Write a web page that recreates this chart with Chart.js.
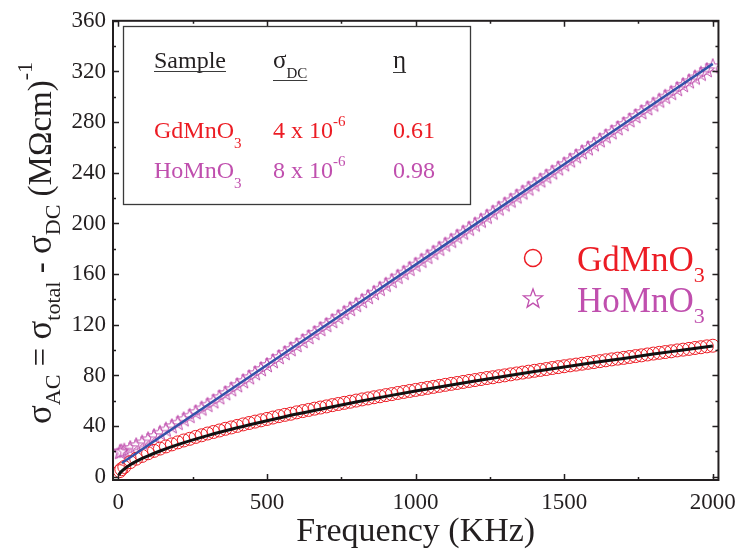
<!DOCTYPE html>
<html>
<head>
<meta charset="utf-8">
<script src="https://cdn.jsdelivr.net/npm/chart.js@4.4.1/dist/chart.umd.min.js"></script>
<style>
  html, body { margin: 0; padding: 0; background: #fff; }
  #wrap { width: 745px; height: 554px; }
</style>
</head>
<body>
<div id="wrap"><canvas id="c" width="745" height="554"></canvas></div>
<script>
// frequency (KHz) of the measured points
const freq = [5, 10, 20, 40, 60, 80, 100, 120, 140, 160, 180, 200, 220, 240, 260, 280, 300, 320, 340, 360, 380, 400,
  420, 440, 460, 480, 500, 520, 540, 560, 580, 600, 620, 640, 660, 680, 700, 720, 740, 760, 780, 800,
  820, 840, 860, 880, 900, 920, 940, 960, 980, 1000, 1020, 1040, 1060, 1080, 1100, 1120, 1140, 1160, 1180, 1200,
  1220, 1240, 1260, 1280, 1300, 1320, 1340, 1360, 1380, 1400, 1420, 1440, 1460, 1480, 1500, 1520, 1540, 1560, 1580, 1600,
  1620, 1640, 1660, 1680, 1700, 1720, 1740, 1760, 1780, 1800, 1820, 1840, 1860, 1880, 1900, 1920, 1940, 1960, 1980, 2000];

const gdValues = [4.5, 6.0, 7.8, 11.6, 14.3, 16.5, 18.6, 20.5, 22.3, 24.0, 25.6, 27.2, 28.7, 30.0, 31.5, 32.8, 34.2, 35.4, 36.6, 37.9, 39.0, 40.2,
  41.4, 42.5, 43.6, 44.6, 45.7, 46.8, 47.9, 48.9, 49.8, 50.9, 51.9, 52.8, 53.8, 54.7, 55.6, 56.6, 57.5, 58.4, 59.3, 60.2,
  61.1, 61.9, 62.8, 63.6, 64.5, 65.3, 66.2, 67.0, 67.8, 68.6, 69.4, 70.2, 71.0, 71.8, 72.6, 73.4, 74.1, 74.9, 75.7, 76.4,
  77.2, 78.0, 78.6, 79.4, 80.1, 80.9, 81.6, 82.3, 83.0, 83.7, 84.4, 85.1, 85.9, 86.6, 87.3, 88.0, 88.6, 89.3, 90.0, 90.6,
  91.3, 92.0, 92.7, 93.3, 93.9, 94.6, 95.3, 95.9, 96.6, 97.3, 97.9, 98.5, 99.1, 99.8, 100.4, 101.0, 101.7, 102.3, 103.0, 103.5];

const hoValues = [19.8, 20.1, 20.7, 22.8, 25.0, 27.2, 29.7, 32.2, 34.8, 37.4, 40.0, 42.7, 45.5, 48.2, 51.1, 54.0, 56.9, 59.7, 62.9, 66.1, 69.2, 72.4,
  75.6, 78.7, 81.9, 85.1, 88.3, 91.4, 94.6, 97.8, 100.9, 104.1, 107.3, 110.4, 113.6, 116.8, 120.0, 123.1, 126.3, 129.5, 132.6, 135.8,
  139.0, 142.1, 145.3, 148.5, 151.7, 154.8, 158.0, 161.2, 164.3, 167.5, 170.7, 173.8, 177.0, 180.2, 183.4, 186.5, 189.7, 192.9, 196.0, 199.2,
  202.4, 205.5, 208.7, 211.9, 215.1, 218.2, 221.4, 224.6, 227.7, 230.9, 234.1, 237.2, 240.4, 243.6, 246.8, 249.9, 253.1, 256.3, 259.4, 262.6,
  265.8, 268.9, 272.1, 275.3, 278.5, 281.6, 284.8, 288.0, 291.1, 294.0, 297.1, 300.1, 303.2, 306.3, 309.4, 312.3, 315.3, 318.3, 321.2, 324.2];

// fitted curves
const gdFitFreq = [2, 5, 10, 20, 40, 60, 80, 100, 140, 200, 300, 400, 500, 600, 700, 800, 900, 1000, 1100, 1200, 1300, 1400, 1500, 1600, 1700, 1800, 1900, 2000];
const gdFitValues = [1.5, 2.7, 4.1, 6.2, 9.5, 12.2, 14.5, 16.6, 20.4, 25.4, 32.5, 38.7, 44.3, 49.6, 54.4, 59.1, 63.5, 67.7, 71.7, 75.6, 79.4, 83.1, 86.7, 90.2, 93.5, 96.9, 100.1, 103.3];
const hoFitFreq = [12, 500, 1000, 1500, 2000];
const hoFitValues = [10.9, 88.3, 167.5, 246.8, 326.0];

const xTicks = [0, 500, 1000, 1500, 2000];
const xMinor = [250, 750, 1250, 1750];
const yTicks = [0, 40, 80, 120, 160, 200, 240, 280, 320, 360];
const yMinor = [20, 60, 100, 140, 180, 220, 260, 300, 340];

// inset table
const tableRows = [
  { sample: 'GdMnO', sigma: '4 x 10', exp: '-6', eta: '0.61' },
  { sample: 'HoMnO', sigma: '8 x 10', exp: '-6', eta: '0.98' }
];

const RED = '#ec1c24';
const MAG = '#c04fae';
const BLUE = '#3352a8';
const INK = '#231f20';
const SERIF = "'Liberation Serif', 'Times New Roman', serif";

function starPath(ctx, cx, cy, R, r) {
  ctx.beginPath();
  for (let i = 0; i < 10; i++) {
    const rad = i % 2 === 0 ? R : r;
    const a = -Math.PI / 2 + i * Math.PI / 5;
    const px = cx + rad * Math.cos(a), py = cy + rad * Math.sin(a);
    if (i === 0) ctx.moveTo(px, py); else ctx.lineTo(px, py);
  }
  ctx.closePath();
}

// star marker as an image point style
const starImg = document.createElement('canvas');
starImg.width = 18; starImg.height = 18;
(function(){
  const c = starImg.getContext('2d');
  c.strokeStyle = MAG; c.lineWidth = 1;
  starPath(c, 9, 9.5, 8, 3.3);
  c.stroke();
})();

function richWidth(ctx, parts) {
  let w = 0;
  for (const p of parts) { ctx.font = p[1] + 'px ' + SERIF; w += ctx.measureText(p[0]).width; }
  return w;
}
function rich(ctx, x, y, parts) {
  let cx = x;
  for (const p of parts) {
    ctx.font = p[1] + 'px ' + SERIF;
    ctx.fillText(p[0], cx, y + p[2]);
    cx += ctx.measureText(p[0]).width;
  }
  return cx;
}

const decor = {
  id: 'decor',
  afterDraw(chart) {
    const ctx = chart.ctx, a = chart.chartArea;
    const xs = chart.scales.x, ys = chart.scales.y;
    ctx.save();
    // frame
    ctx.strokeStyle = INK; ctx.lineWidth = 2;
    ctx.strokeRect(a.left, a.top, a.right - a.left, a.bottom - a.top);
    ctx.lineWidth = 1.5;
    ctx.beginPath();
    xTicks.concat(xMinor).forEach(v => {
      const px = Math.round(xs.getPixelForValue(v)) + 0.5;
      const len = xTicks.includes(v) ? 6 : 3;
      ctx.moveTo(px, a.bottom); ctx.lineTo(px, a.bottom - len);
      ctx.moveTo(px, a.top); ctx.lineTo(px, a.top + len);
    });
    yTicks.concat(yMinor).forEach(v => {
      const py = Math.round(ys.getPixelForValue(v)) + 0.5;
      const len = yTicks.includes(v) ? 6 : 3;
      ctx.moveTo(a.left, py); ctx.lineTo(a.left + len, py);
      ctx.moveTo(a.right, py); ctx.lineTo(a.right - len, py);
    });
    ctx.stroke();

    // x title
    ctx.fillStyle = INK;
    ctx.textBaseline = 'alphabetic';
    ctx.textAlign = 'center';
    ctx.font = '34px ' + SERIF;
    ctx.fillText('Frequency (KHz)', (a.left + a.right) / 2, 541);
    ctx.textAlign = 'left';

    // y title
    const yParts = [['σ', 35, 0], ['AC', 22, 9], [' = ', 33, 0], ['σ', 35, 0], ['total', 22, 9], [' - ', 33, 0],
                    ['σ', 35, 0], ['DC', 22, 9], [' (MΩcm)', 33, 0], ['-1', 22, -19]];
    ctx.save();
    ctx.translate(51, 243);
    ctx.rotate(-Math.PI / 2);
    const w = richWidth(ctx, yParts);
    rich(ctx, -w / 2, 0, yParts);
    ctx.restore();

    // inset table
    ctx.strokeStyle = '#3a3a3a'; ctx.lineWidth = 1.3;
    ctx.strokeRect(123.5, 26.5, 347, 178);
    ctx.fillStyle = INK;
    ctx.lineWidth = 1;
    let e = rich(ctx, 154, 68, [['Sample', 24, 0]]);
    ctx.beginPath(); ctx.moveTo(154, 71.5); ctx.lineTo(e, 71.5);
    e = rich(ctx, 273, 68, [['σ', 25, 0], ['DC', 15, 10]]);
    ctx.moveTo(273, 80.5); ctx.lineTo(e, 80.5);
    e = rich(ctx, 393, 68, [['η', 25, 0]]);
    ctx.moveTo(393, 72.5); ctx.lineTo(e, 72.5);
    ctx.stroke();
    const rowY = [138, 178];
    tableRows.forEach((r, i) => {
      ctx.fillStyle = i === 0 ? RED : MAG;
      rich(ctx, 154, rowY[i], [[r.sample, 24, 0], ['3', 15, 10]]);
      rich(ctx, 273, rowY[i], [[r.sigma, 24, 0], [r.exp, 15, -12]]);
      rich(ctx, 393, rowY[i], [[r.eta, 24, 0]]);
    });

    // legend
    ctx.lineWidth = 1.5;
    ctx.strokeStyle = RED;
    ctx.beginPath(); ctx.arc(533, 258, 8.5, 0, Math.PI * 2); ctx.stroke();
    ctx.fillStyle = RED;
    rich(ctx, 577, 271, [['GdMnO', 35, 0], ['3', 22, 11]]);
    ctx.strokeStyle = MAG; ctx.lineWidth = 1.3;
    starPath(ctx, 533, 299, 10, 4.1); ctx.stroke();
    ctx.fillStyle = MAG;
    rich(ctx, 577, 312, [['HoMnO', 35, 0], ['3', 22, 11]]);
    ctx.restore();
  }
};

const pts = (xsArr, ysArr) => xsArr.map((x, i) => ({ x: x, y: ysArr[i] }));

new Chart(document.getElementById('c'), {
  type: 'scatter',
  data: {
    datasets: [
      { label: 'GdMnO3 fit', data: pts(gdFitFreq, gdFitValues), showLine: true, borderColor: '#111', borderWidth: 3,
        pointRadius: 0, cubicInterpolationMode: 'monotone' },
      { label: 'HoMnO3 fit', data: pts(hoFitFreq, hoFitValues), showLine: true, borderColor: BLUE, borderWidth: 2.5,
        pointRadius: 0, cubicInterpolationMode: 'monotone' },
      { label: 'GdMnO3', data: pts(freq, gdValues), pointStyle: 'circle', pointRadius: 6.5, borderWidth: 1,
        pointBorderColor: RED, pointBackgroundColor: 'rgba(0,0,0,0)' },
      { label: 'HoMnO3', data: pts(freq, hoValues), pointStyle: starImg }
    ]
  },
  options: {
    responsive: false,
    animation: false,
    devicePixelRatio: 1,
    layout: { padding: { left: 0, right: 21, top: 15, bottom: 0 } },
    plugins: { legend: { display: false }, tooltip: { enabled: false } },
    scales: {
      x: {
        type: 'linear', min: -18, max: 2019,
        grid: { display: false, drawTicks: false }, border: { display: false },
        afterBuildTicks: s => { s.ticks = xTicks.map(v => ({ value: v })); },
        afterFit: s => { s.height = 74; },
        ticks: { color: INK, padding: 9, maxRotation: 0, font: { family: SERIF, size: 23 }, callback: v => String(v) }
      },
      y: {
        type: 'linear', min: -2.5, max: 360,
        grid: { display: false, drawTicks: false }, border: { display: false },
        afterBuildTicks: s => { s.ticks = yTicks.map(v => ({ value: v })); },
        afterFit: s => { s.width = 113; },
        ticks: { color: INK, padding: 7, font: { family: SERIF, size: 23 }, callback: v => String(v) }
      }
    }
  },
  plugins: [decor]
});
</script>
</body>
</html>
